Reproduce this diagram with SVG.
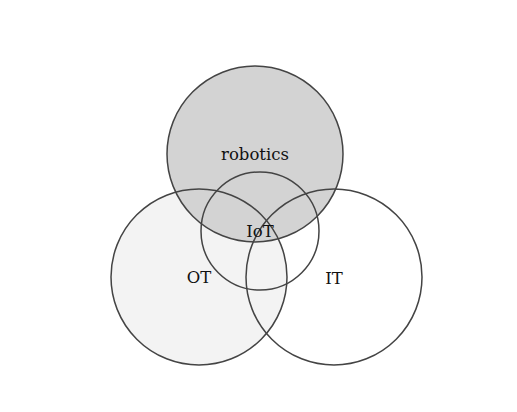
<svg xmlns="http://www.w3.org/2000/svg" width="517" height="412" viewBox="0 0 517 412">
<style>
.f{stroke:none}
.o{fill:none;stroke:#444;stroke-width:1.5}
text{font-family:"DejaVu Serif",serif;font-size:16.5px;fill:#111;text-anchor:middle}
</style>
<rect width="517" height="412" fill="#fff"/>
<g id="fills">
<circle class="f" cx="199" cy="277" r="88" fill="#f3f3f3"/>
<circle class="f" cx="334" cy="277" r="88" fill="none"/>
<circle class="f" cx="255" cy="154" r="88" fill="#d3d3d3"/>
</g>
<g id="robotics"><circle class="o" cx="255" cy="154" r="88"/><text x="255" y="160">robotics</text></g>
<g id="OT"><circle class="o" cx="199" cy="277" r="88"/><text x="199" y="283">OT</text></g>
<g id="IT"><circle class="o" cx="334" cy="277" r="88"/><text x="334" y="284">IT</text></g>
<g id="IoT"><circle class="o" cx="260" cy="231" r="59"/><text x="260" y="237">IoT</text></g>
<g id="connectors"></g>
</svg>
